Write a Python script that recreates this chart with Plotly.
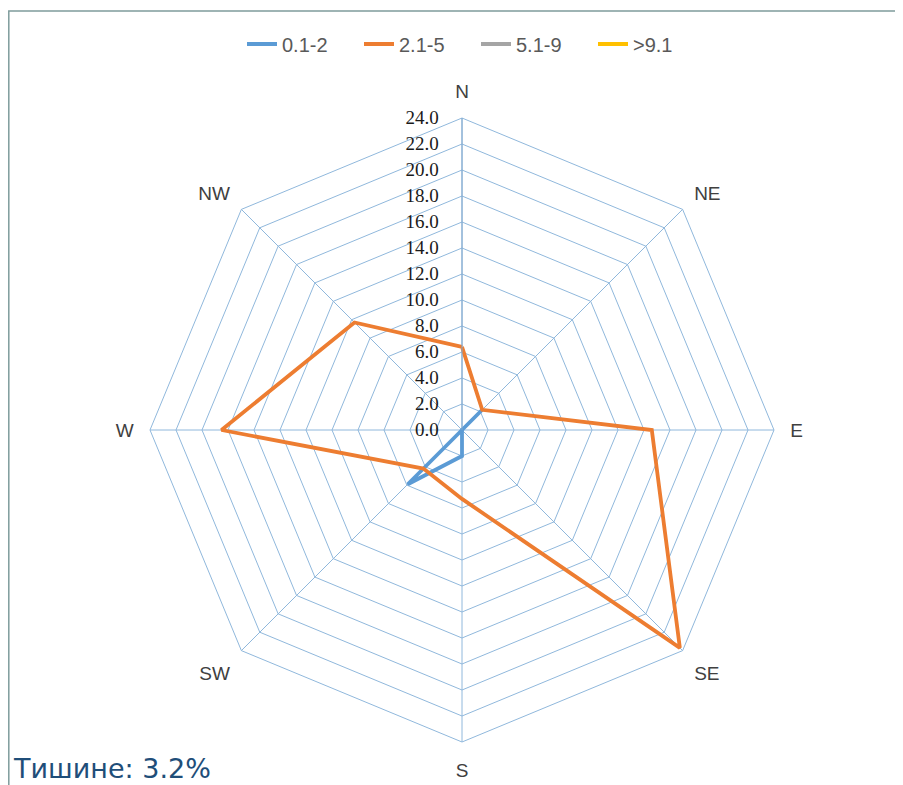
import plotly.graph_objects as go

directions = ["N", "NE", "E", "SE", "S", "SW", "W", "NW"]
s1 = [0.0, 2.2, 0.0, 0.0, 2.0, 5.9, 0.0, 0.0]        # 0.1-2
s2 = [6.4, 2.2, 14.6, 23.7, 5.3, 4.2, 18.5, 11.7]    # 2.1-5
s3 = [0.0, 0.0, 0.0, 0.0, 0.0, 0.0, 0.0, 0.0]        # 5.1-9
s4 = [0.0, 0.0, 0.0, 0.0, 0.0, 0.0, 0.0, 0.0]        # >9.1
names = ["0.1-2", "2.1-5", "5.1-9", ">9.1"]
colors = ["#5b9bd5", "#ed7d31", "#a5a5a5", "#ffc000"]
series = [s1, s2, s3, s4]
calm_text = "Тишине: 3.2%"

fig = go.Figure()
order = [3, 2, 0, 1]
for i in order:
    vals = series[i]
    fig.add_trace(go.Scatterpolar(
        r=vals + vals[:1],
        theta=directions + directions[:1],
        mode="lines",
        name=names[i],
        line=dict(color=colors[i], width=3.8),
        showlegend=False,
    ))
for i in range(4):
    fig.add_trace(go.Scatterpolar(
        r=[None], theta=[directions[0]], mode="lines", name=names[i],
        line=dict(color=colors[i], width=3.8),
    ))

grid = "#90b8dc"
OFF = 8  # page body margin
L, T = 150 - OFF, 118 - OFF
W_, H_ = 624, 624
FW, FH = 903, 785
fig.update_layout(
    width=FW, height=FH,
    margin=dict(l=L, r=FW - L - W_, t=T, b=FH - T - H_, autoexpand=False),
    paper_bgcolor="white",
    plot_bgcolor="white",
    showlegend=True,
    legend=dict(orientation="h", x=(242 - OFF) / FW, xanchor="left", xref="container",
                y=1 - (44 - OFF) / FH, yanchor="middle", yref="container",
                entrywidth=72, entrywidthmode="pixels",
                font=dict(family="Liberation Sans", size=20, color="#595959"),
                bgcolor="rgba(0,0,0,0)"),
    polar=dict(
        bgcolor="white",
        gridshape="linear",
        domain=dict(x=[0, 1], y=[0, 1]),
        angularaxis=dict(
            direction="clockwise", rotation=90,
            categoryorder="array", categoryarray=directions,
            showline=True, linecolor=grid, linewidth=1,
            showgrid=True, gridcolor=grid, gridwidth=1,
            ticks="outside", ticklen=12, tickcolor="rgba(0,0,0,0)",
            tickfont=dict(family="Liberation Sans", size=19, color="#404040"),
        ),
        radialaxis=dict(
            range=[0, 24], dtick=2, tick0=0, tickformat=".1f",
            angle=90, side="counterclockwise", tickangle=90,
            showline=True, linecolor="#80a8ce", linewidth=1,
            showgrid=True, gridcolor=grid, gridwidth=1,
            ticks="outside", ticklen=16, tickcolor="rgba(0,0,0,0)",
            tickfont=dict(family="Liberation Serif", size=19, color="#1a1a1a"),
        ),
    ),
    shapes=[dict(type="rect", xref="paper", yref="paper",
                 x0=(0.8 - L) / W_, x1=1.4, y0=-0.3, y1=1 + (T - 3) / H_,
                 line=dict(color="#7f9c9c", width=1.5), fillcolor="rgba(0,0,0,0)", layer="below")],
    annotations=[dict(text=calm_text, xref="paper", yref="paper",
                      x=(11 - OFF - L) / W_, y=-(768 - OFF - (T + H_)) / H_,
                      xanchor="left", yanchor="middle",
                      showarrow=False, font=dict(family="DejaVu Sans", size=27, color="#1f4e79"))],
)

fig.write_html("out.html")
